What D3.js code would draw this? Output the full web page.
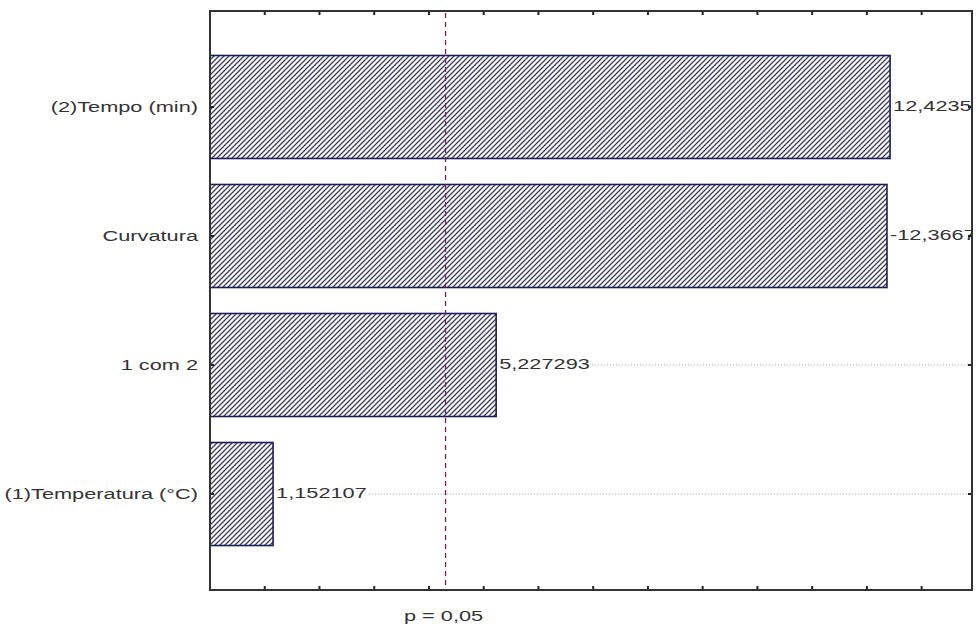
<!DOCTYPE html>
<html><head><meta charset="utf-8">
<script src="https://cdn.jsdelivr.net/npm/d3@7"></script>
<style>body{margin:0;background:#fff}svg{display:block}</style>
</head><body>
<svg id="c" width="976" height="626"></svg>
<script>
const categories = ["(2)Tempo (min)", "Curvatura", "1 com 2", "(1)Temperatura (°C)"];
const effects = [12.42354, -12.3667, 5.227293, 1.152107];
const pLabel = "p = 0,05";
const pValueT = 4.303;
const xTicks = d3.range(0, 14, 1);

const W = 976, H = 626;
const m = {left: 210, right: 4, top: 11, bottom: 36};
const svg = d3.select("#c");
const sx = 1.45; // horizontal stretch of text in the original
const fmt = v => d3.format(".7~g")(v).replace(".", ",").replace("−", "-");

const x = d3.scaleLinear().domain([0, 13.92]).range([m.left, W - m.right]);
const y = d3.scalePoint().domain(categories).range([m.top, H - m.bottom]).padding(0.744);
const bh = 103;

const defs = svg.append("defs");
const pat = defs.append("pattern").attr("id", "hatch").attr("patternUnits", "userSpaceOnUse")
  .attr("width", 5).attr("height", 5);
pat.append("rect").attr("width", 5).attr("height", 5).attr("fill", "#fff");
pat.append("path").attr("d", "M-1,6 L6,-1 M-1,1 L1,-1 M4,6 L6,4")
  .attr("stroke", "#3a3a6a").attr("stroke-width", 1.3);

const clip = defs.append("clipPath").attr("id", "plot");
clip.append("rect").attr("x", m.left).attr("y", m.top).attr("width", W - m.right - m.left).attr("height", H - m.bottom - m.top);

const g = svg.append("g").attr("clip-path", "url(#plot)");

// bars
g.selectAll("rect.bar").data(categories).join("rect").attr("class", "bar")
  .attr("x", x(0)).attr("y", d => y(d) - bh / 2)
  .attr("width", (d, i) => x(Math.abs(effects[i])) - x(0)).attr("height", bh)
  .attr("fill", "url(#hatch)").attr("stroke", "#1c1c55").attr("stroke-width", 1.6);

// value labels + dotted leaders
categories.forEach((c, i) => {
  const x0 = x(Math.abs(effects[i])) + 3;
  const t = g.append("text").attr("transform", `translate(${x0},${y(c) + 4}) scale(${sx},1)`)
    .attr("font-family", "Liberation Sans, Arial, sans-serif").attr("font-size", 15)
    .attr("fill", "#333").text(fmt(effects[i]));
  const len = t.node().getComputedTextLength() * sx;
  g.append("line").attr("x1", x0 + len + 2).attr("x2", W - m.right).attr("y1", y(c)).attr("y2", y(c))
    .attr("stroke", "#999").attr("stroke-dasharray", "1,2").attr("stroke-width", 1);
});

// p line
svg.append("line").attr("x1", x(pValueT)).attr("x2", x(pValueT)).attr("y1", m.top + 2).attr("y2", H - m.bottom)
  .attr("stroke", "#7a2050").attr("stroke-width", 1.3).attr("stroke-dasharray", "5,4");
svg.append("text").attr("transform", `translate(${x(pValueT) - 2},${H - 5}) scale(${sx},1)`)
  .attr("text-anchor", "middle").attr("font-family", "Liberation Sans, Arial, sans-serif")
  .attr("font-size", 15).attr("fill", "#333").text(pLabel);

// ticks top/bottom
const tg = svg.append("g").attr("stroke", "#222").attr("stroke-width", 2);
xTicks.forEach(v => {
  tg.append("line").attr("x1", x(v)).attr("x2", x(v)).attr("y1", m.top).attr("y2", m.top + 4);
  tg.append("line").attr("x1", x(v)).attr("x2", x(v)).attr("y1", H - m.bottom).attr("y2", H - m.bottom - 4);
});
categories.forEach(c => {
  tg.append("line").attr("x1", m.left).attr("x2", m.left + 4).attr("y1", y(c)).attr("y2", y(c));
  tg.append("line").attr("x1", W - m.right).attr("x2", W - m.right - 4).attr("y1", y(c)).attr("y2", y(c));
});

// frame
svg.append("rect").attr("x", m.left).attr("y", m.top).attr("width", W - m.right - m.left)
  .attr("height", H - m.bottom - m.top).attr("fill", "none").attr("stroke", "#333").attr("stroke-width", 2);

// category labels
categories.forEach(c => {
  svg.append("text").attr("transform", `translate(${m.left - 12},${y(c) + 5}) scale(${sx},1)`)
    .attr("text-anchor", "end").attr("font-family", "Liberation Sans, Arial, sans-serif")
    .attr("font-size", 15).attr("fill", "#333").text(c);
});
</script>
</body></html>
